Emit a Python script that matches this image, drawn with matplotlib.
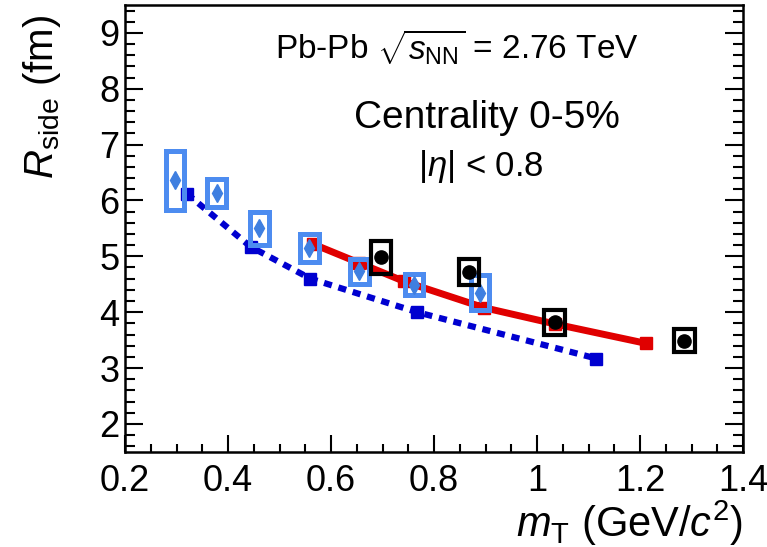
import numpy as np
import matplotlib
matplotlib.use("Agg")
import matplotlib.pyplot as plt
from matplotlib.patches import Rectangle
from matplotlib.ticker import MultipleLocator

plt.rcParams['font.family'] = ['Liberation Sans', 'DejaVu Sans']
plt.rcParams['mathtext.fontset'] = 'custom'
plt.rcParams['mathtext.rm'] = 'Liberation Sans'
plt.rcParams['mathtext.it'] = 'Liberation Sans:italic'

# data points (black circles) with systematic boxes
black_x = [0.697, 0.868, 1.034, 1.286]
black_y = [4.98, 4.72, 3.82, 3.49]
black_sys = [0.30, 0.23, 0.22, 0.21]

# data points (blue diamonds) with systematic boxes
blue_x = [0.297, 0.378, 0.461, 0.558, 0.655, 0.761, 0.889]
blue_y = [6.36, 6.13, 5.50, 5.15, 4.73, 4.49, 4.35]
blue_sys = [0.53, 0.25, 0.29, 0.25, 0.22, 0.19, 0.32]

# model curves
red_x = [0.565, 0.655, 0.742, 0.897, 1.034, 1.212]
red_y = [5.22, 4.88, 4.55, 4.08, 3.79, 3.44]
dblue_x = [0.32, 0.444, 0.56, 0.767, 1.115]
dblue_y = [6.12, 5.17, 4.60, 4.00, 3.17]

fig = plt.figure(figsize=(7.67, 5.47), dpi=100)
ax = fig.add_axes([0.163, 0.174, 0.806, 0.817])

ax.plot(dblue_x, dblue_y, color='#0000d0', lw=4.5, dashes=(1.3, 1.1),
        dash_capstyle='butt', zorder=2)
ax.plot(dblue_x, dblue_y, 's', color='#0000d0', ms=8.5, zorder=2)
ax.plot(red_x, red_y, color='#e00000', lw=5, zorder=2)
ax.plot(red_x, red_y, 's', color='#e00000', ms=8.5, zorder=2)

for x, y, s in zip(blue_x, blue_y, blue_sys):
    ax.add_patch(Rectangle((x - 0.018, y - s), 0.036, 2 * s, fill=False,
                           edgecolor='#4d8cf0', lw=3.6, zorder=3))
ax.plot(blue_x, blue_y, 'd', color='#3f7fe0', ms=9, zorder=4)

for x, y, s in zip(black_x, black_y, black_sys):
    ax.add_patch(Rectangle((x - 0.02, y - s), 0.04, 2 * s, fill=False,
                           edgecolor='black', lw=3, zorder=5))
ax.plot(black_x, black_y, 'o', color='black', ms=9.5, zorder=6)

ax.set_xlim(0.2, 1.4)
ax.set_ylim(1.5, 9.5)
ax.xaxis.set_minor_locator(MultipleLocator(0.05))
ax.yaxis.set_minor_locator(MultipleLocator(0.2))
ax.set_xticks(np.arange(0.2, 1.41, 0.2))
ax.set_xticklabels(['0.2', '0.4', '0.6', '0.8', '1', '1.2', '1.4'])
ax.set_yticks(range(2, 10))
ax.tick_params(which='both', direction='in', right=True, top=False,
               width=1.5, labelsize=26)
ax.tick_params(axis='y', which='major', length=13, pad=4)
ax.tick_params(axis='y', which='minor', length=7)
ax.tick_params(axis='x', which='major', length=12, pad=9)
ax.tick_params(axis='x', which='minor', length=6)
for sp in ax.spines.values():
    sp.set_linewidth(1.8)

ax.set_xlabel(r'$m_{\rm T}$ (GeV/$c^{2}$)', fontsize=30, loc='right')
ax.xaxis.set_label_coords(1.0, -0.104)
ax.set_ylabel(r'$R_{\rm side}$ (fm)', fontsize=29, loc='top')
ax.yaxis.set_label_coords(-0.1, 0.978)

ax.text(0.845, 8.74, r'Pb-Pb $\sqrt{s_{\rm NN}}$ = 2.76 TeV', fontsize=24,
        ha='center', va='center')
ax.text(0.903, 7.48, 'Centrality 0-5%', fontsize=28, ha='center', va='center')
ax.text(0.891, 6.6, r'$|\eta|$ < 0.8', fontsize=25, ha='center', va='center')

fig.savefig('out.png', dpi=100)
